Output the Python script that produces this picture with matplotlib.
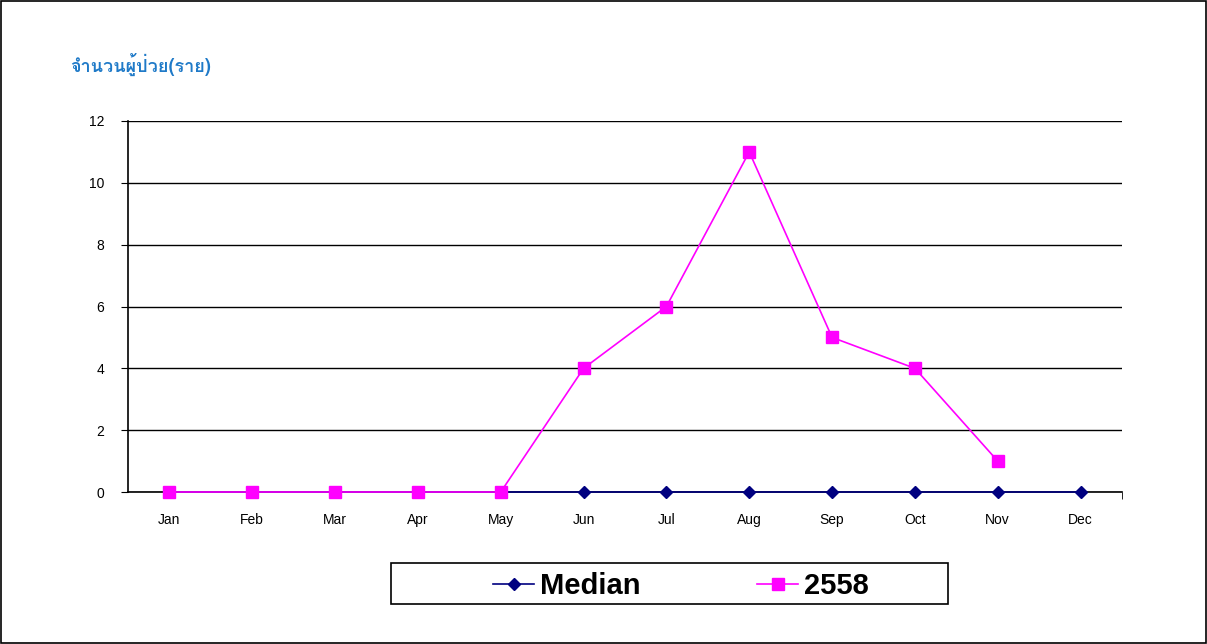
import numpy as np
import matplotlib
matplotlib.use('Agg')
import matplotlib.pyplot as plt
from matplotlib.patches import Rectangle

months = ['Jan', 'Feb', 'Mar', 'Apr', 'May', 'Jun', 'Jul', 'Aug', 'Sep', 'Oct', 'Nov', 'Dec']
median = [0, 0, 0, 0, 0, 0, 0, 0, 0, 0, 0, 0]
y2558 = [0, 0, 0, 0, 0, 4, 6, 11, 5, 4, 1]
title = 'จำนวนผู้ป่วย(ราย)'

plt.rcParams['font.family'] = ['Liberation Sans', 'DejaVu Sans']

fig = plt.figure(figsize=(12.07, 6.44), dpi=100)
ax = fig.add_axes([128/1207, 1 - 492/644, (1122-128)/1207, (492-121)/644])

x = np.arange(len(months))
ax.plot(x, median, color='#000080', marker='D', markersize=6, lw=1.2, label='Median',
        zorder=3, clip_on=False)
ax.plot(x[:len(y2558)], y2558, color='#FF00FF', marker='s', markersize=8, lw=1.2,
        label='2558', zorder=4, clip_on=False)

ax.set_xlim(-0.5, 11.5)
ax.set_ylim(0, 12)
ax.set_yticks(range(0, 13, 2))
ax.yaxis.grid(True, color='black', lw=1)
ax.set_axisbelow(True)
ax.set_xticks(x)
ax.set_xticklabels(months, fontsize=10)
ax.set_xticks([11.5], minor=True)
ax.tick_params(axis='x', which='major', length=0, pad=15)
ax.tick_params(axis='x', which='minor', length=5, direction='out')
ax.tick_params(axis='y', length=5, labelsize=10, pad=12)
for s in ['top', 'right']:
    ax.spines[s].set_visible(False)
ax.spines['left'].set_linewidth(1.2)
ax.spines['bottom'].set_linewidth(1.2)

fig.text(70/1207, 1 - 64/644, title, color='#1F7AC8', fontsize=13, fontweight='bold',
         family=['Loma', 'Garuda', 'Noto Sans Thai', 'Noto Serif Thai', 'Tlwg Typo', 'Noto Sans', 'DejaVu Sans'], va='center')

leg = fig.legend(loc='center', bbox_to_anchor=(681/1207, 1 - 586/644), ncol=2,
                 prop={'size': 21, 'weight': 'bold'}, frameon=False,
                 columnspacing=4.0, handlelength=1.4, handletextpad=0.2)

fig.patches.append(Rectangle((391/1207, 1 - 604/644), (948-391)/1207, 41/644,
                             transform=fig.transFigure, fill=False, edgecolor='black', lw=1.2))
fig.patches.append(Rectangle((0.001, 0.001), 0.998, 0.997, transform=fig.transFigure,
                             fill=False, edgecolor='black', lw=1.2))

fig.savefig('out.png', dpi=100)
